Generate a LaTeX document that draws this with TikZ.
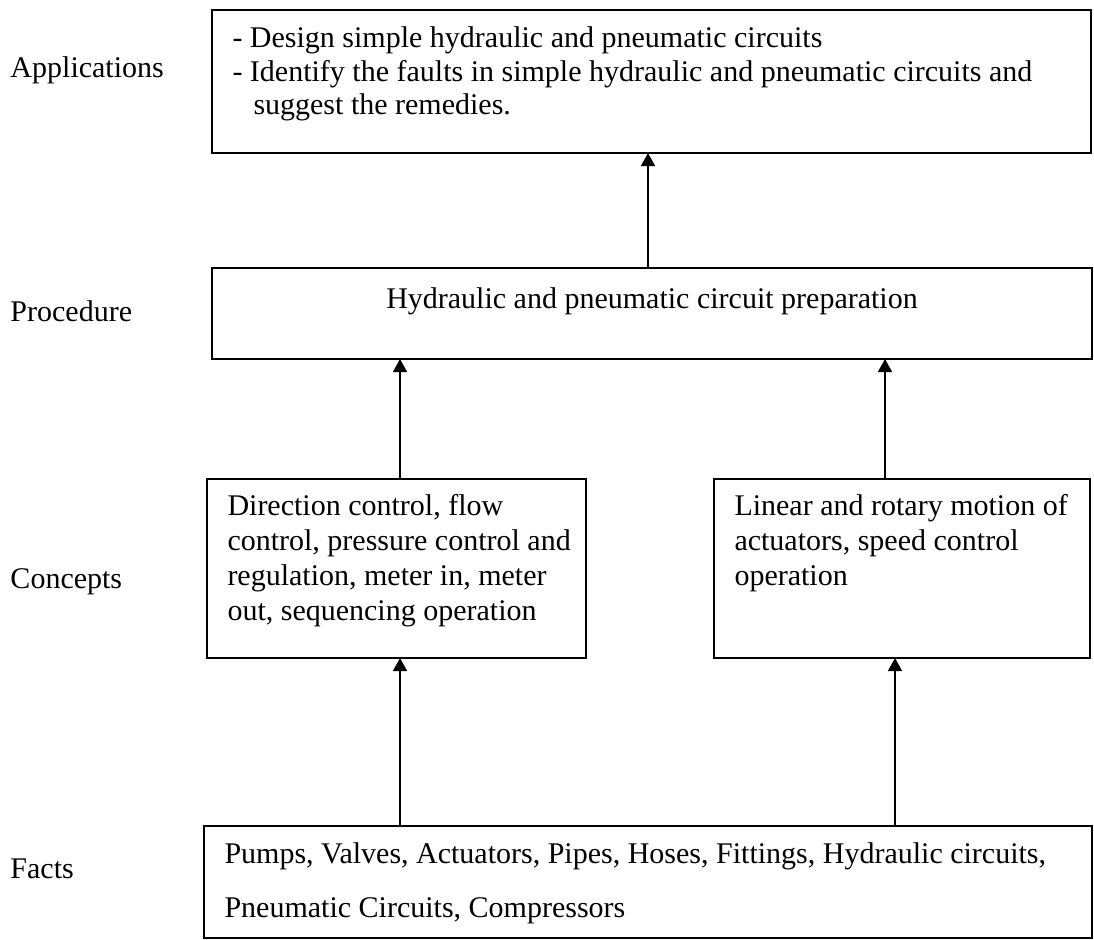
\documentclass[tikz,border=0pt]{standalone}
\usepackage{fontspec}
\setmainfont{Liberation Serif}
\usetikzlibrary{arrows.meta}
\begin{document}
\begin{tikzpicture}[x=0.4pt,y=-0.4pt,
  box/.style={draw, line width=0.6pt, inner sep=0pt, outer sep=0pt, rectangle},
  txt/.style={anchor=base west, inner sep=0pt, font=\fontsize{12}{13.8}\selectfont},
  arr/.style={line width=0.6pt, -{Triangle[length=5.2pt,width=5.6pt]}}]
\useasboundingbox (0,0) rectangle (1094,940);
% boxes
\node[box, minimum width=879*0.4pt, minimum height=143*0.4pt] (app) at (651.5,81.5) {};
\node[box, minimum width=880*0.4pt, minimum height=91*0.4pt] (proc) at (652,313.5) {};
\node[box, minimum width=379*0.4pt, minimum height=179*0.4pt] (conL) at (396.5,568.5) {};
\node[box, minimum width=376*0.4pt, minimum height=179*0.4pt] (conR) at (902,568.5) {};
\node[box, minimum width=888*0.4pt, minimum height=112*0.4pt] (facts) at (648,882) {};
% row labels
\node[txt] (lapp) at (10,78) {Applications};
\node[txt] (lproc) at (10,321) {Procedure};
\node[txt] (lcon) at (10,588) {Concepts};
\node[txt] (lfacts) at (10,878) {Facts};
% texts
\node[txt] (t1) at (232,47) {- Design simple hydraulic and pneumatic circuits};
\node[txt] (t2) at (232,81) {- Identify the faults in simple hydraulic and pneumatic circuits and};
\node[txt] (t3) at (253,114) {suggest the remedies.};
\node[anchor=base, inner sep=0pt, font=\fontsize{12}{13.8}\selectfont] (t4) at (652,308) {Hydraulic and pneumatic circuit preparation};
\node[txt] (t5) at (227,515) {Direction control, flow};
\node[txt] (t6) at (227,550) {control, pressure control and};
\node[txt] (t7) at (227,585) {regulation, meter in, meter};
\node[txt] (t8) at (227,620) {out, sequencing operation};
\node[txt] (t9) at (734,515) {Linear and rotary motion of};
\node[txt] (t10) at (734,550) {actuators, speed control};
\node[txt] (t11) at (734,585) {operation};
\node[txt] (t12) at (224,863) {Pumps, Valves, Actuators, Pipes, Hoses, Fittings, Hydraulic circuits,};
\node[txt] (t13) at (224,917) {Pneumatic Circuits, Compressors};
% connectors
\coordinate (xa) at (400,0);
\coordinate (xb) at (895,0);
\coordinate (xc) at (885,0);
\coordinate (xd) at (648,0);
\draw[arr] (facts.north -| xa) -- (conL.south -| xa);
\draw[arr] (facts.north -| xb) -- (conR.south -| xb);
\draw[arr] (conL.north -| xa) -- (proc.south -| xa);
\draw[arr] (conR.north -| xc) -- (proc.south -| xc);
\draw[arr] (proc.north -| xd) -- (app.south -| xd);
\end{tikzpicture}
\end{document}
